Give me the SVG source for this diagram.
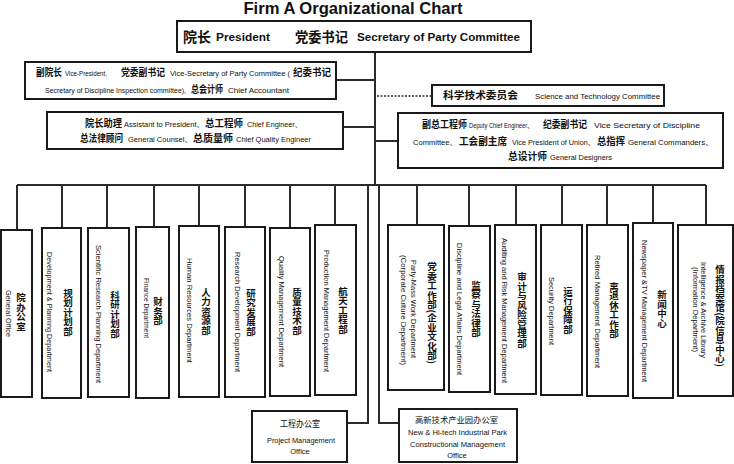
<svg xmlns="http://www.w3.org/2000/svg" width="734" height="464" viewBox="0 0 734 464">
<style>
.bx{fill:#fff;stroke:#1a1a1a;stroke-width:2}
.ln{fill:none;stroke:#2a2a2a;stroke-width:2}
.dt{fill:none;stroke:#2a2a2a;stroke-width:1.6;stroke-dasharray:2 1.5}
text{fill:#111}
.cj{font-family:"Noto Sans CJK SC","Noto Sans CJK TC",sans-serif;font-weight:bold}
.cn{font-family:"Noto Sans CJK SC","Noto Sans CJK TC",sans-serif;font-weight:normal}
.en{font-family:"Liberation Sans","Noto Sans CJK SC",Arial,sans-serif}
.s{font-size:7.5px}
.m{font-size:10px}
.vt{writing-mode:vertical-rl;text-anchor:middle;font-size:9.5px}
.ve{font-size:7px}
</style>
<text x="353" y="14" text-anchor="middle" class="en" font-size="16.6" font-weight="bold">Firm A Organizational Chart</text>

<g id="connectors">
<path class="ln" d="M375 52V185M336 80H375M343 127H375M375 141H398M17 185H706"/>
<path class="dt" d="M377 96H432"/>
<path class="ln" d="M17 185V230M62 185V228M107 185V228M154 185V227M199 185V226M245 185V227M290 185V228M335 185V225M417 185V225M469 185V226M516 185V225M562 185V225M607 185V225M653 185V223M706 185V225"/>
<path class="ln" d="M368 185V423H347M379 185V423H399"/>
</g>

<g id="president">
<rect class="bx" x="177" y="21" width="354" height="31"/>
<text class="cj" x="183" y="42" font-size="14" textLength="28" lengthAdjust="spacingAndGlyphs">院长</text>
<text class="en" x="216" y="41" font-size="11" font-weight="bold" textLength="54" lengthAdjust="spacingAndGlyphs">President</text>
<text class="cj" x="295" y="42" font-size="13.5" textLength="53" lengthAdjust="spacingAndGlyphs">党委书记</text>
<text class="en" x="357" y="41" font-size="11" font-weight="bold" textLength="163" lengthAdjust="spacingAndGlyphs">Secretary of Party Committee</text>
</g>

<g id="vice-president">
<rect class="bx" x="25" y="62" width="311" height="37"/>
<text class="cj m" x="36" y="76" textLength="26" lengthAdjust="spacingAndGlyphs">副院长</text>
<text class="en s" x="65" y="75.5" textLength="42" lengthAdjust="spacingAndGlyphs">Vice-President,</text>
<text class="cj m" x="121" y="76" textLength="44" lengthAdjust="spacingAndGlyphs">党委副书记</text>
<text class="en s" x="170" y="75.5" textLength="120" lengthAdjust="spacingAndGlyphs">Vice-Secretary of Party Committee (</text>
<text class="cj m" x="293" y="76" textLength="38" lengthAdjust="spacingAndGlyphs">纪委书记</text>
<text class="en s" x="45" y="92.5" textLength="141" lengthAdjust="spacingAndGlyphs">Secretary of Discipline Inspection committee),</text>
<text class="cj m" x="191" y="93" textLength="32" lengthAdjust="spacingAndGlyphs">总会计师</text>
<text class="en s" x="228" y="92.5" textLength="61" lengthAdjust="spacingAndGlyphs">Chief  Accountant</text>
</g>

<g id="assistants">
<rect class="bx" x="47" y="112" width="296" height="37"/>
<text class="cj m" x="85" y="127" textLength="37" lengthAdjust="spacingAndGlyphs">院长助理</text>
<text class="en s" x="124" y="126.5" textLength="80" lengthAdjust="spacingAndGlyphs">Assistant to President、</text>
<text class="cj m" x="205" y="127" textLength="38" lengthAdjust="spacingAndGlyphs">总工程师</text>
<text class="en s" x="247" y="126.5" textLength="55" lengthAdjust="spacingAndGlyphs">Chief Engineer、</text>
<text class="cj m" x="80" y="142" textLength="43" lengthAdjust="spacingAndGlyphs">总法律顾问</text>
<text class="en s" x="128" y="141.5" textLength="64" lengthAdjust="spacingAndGlyphs">General Counsel、</text>
<text class="cj m" x="193" y="142" textLength="40" lengthAdjust="spacingAndGlyphs">总质量师</text>
<text class="en s" x="236" y="141.5" textLength="75" lengthAdjust="spacingAndGlyphs">Chief Quality Engineer</text>
</g>

<g id="sci-tech-committee">
<rect class="bx" x="432" y="85" width="232" height="21"/>
<text class="cj" x="443" y="99" font-size="10.5" textLength="75" lengthAdjust="spacingAndGlyphs">科学技术委员会</text>
<text class="en s" x="535" y="98.5" textLength="125" lengthAdjust="spacingAndGlyphs">Science and Technology Committee</text>
</g>

<g id="deputies">
<rect class="bx" x="398" y="113" width="325" height="55"/>
<text class="cj m" x="422" y="128" textLength="45" lengthAdjust="spacingAndGlyphs">副总工程师</text>
<text class="en" x="469" y="127.5" font-size="6.5" textLength="64" lengthAdjust="spacingAndGlyphs">Deputy Chief Engineer、</text>
<text class="cj m" x="543" y="128" textLength="44" lengthAdjust="spacingAndGlyphs">纪委副书记</text>
<text class="en s" x="594" y="127.5" textLength="106" lengthAdjust="spacingAndGlyphs">Vice Secretary of Discipline</text>
<text class="en s" x="413" y="144.5" textLength="44" lengthAdjust="spacingAndGlyphs">Committee、</text>
<text class="cj m" x="459" y="145" textLength="48" lengthAdjust="spacingAndGlyphs">工会副主席</text>
<text class="en s" x="512" y="144.5" textLength="83" lengthAdjust="spacingAndGlyphs">Vice President of Union、</text>
<text class="cj m" x="597" y="145" textLength="28" lengthAdjust="spacingAndGlyphs">总指挥</text>
<text class="en s" x="628" y="144.5" textLength="85" lengthAdjust="spacingAndGlyphs">General Commanders、</text>
<text class="cj m" x="508" y="160" textLength="39" lengthAdjust="spacingAndGlyphs">总设计师</text>
<text class="en s" x="550" y="159.5" textLength="62" lengthAdjust="spacingAndGlyphs">General Designers</text>
</g>

<g id="d1"><rect class="bx" x="1" y="230" width="31" height="167"/>
<text class="en ve" transform="translate(8,290) rotate(90)" y="2.5" textLength="47" lengthAdjust="spacingAndGlyphs">General Office</text>
<text class="cj vt" x="21" y="312">院办公室</text></g>
<g id="d2"><rect class="bx" x="42" y="228" width="39" height="170"/>
<text class="en ve" transform="translate(49,252) rotate(90)" y="2.5" textLength="120" lengthAdjust="spacingAndGlyphs">Development &amp; Planning Department</text>
<text class="cj vt" x="68" y="312">规划计划部</text></g>
<g id="d3"><rect class="bx" x="88" y="228" width="41" height="169"/>
<text class="en ve" transform="translate(98,245) rotate(90)" y="2.5" textLength="138" lengthAdjust="spacingAndGlyphs">Scientific Research Planning Department</text>
<text class="cj vt" x="115" y="314">科研计划部</text></g>
<g id="d4"><rect class="bx" x="136" y="227" width="33" height="171"/>
<text class="en ve" transform="translate(146,278) rotate(90)" y="2.5" textLength="60" lengthAdjust="spacingAndGlyphs">Finance Department</text>
<text class="cj vt" x="158" y="311">财务部</text></g>
<g id="d5"><rect class="bx" x="179" y="226" width="40" height="171"/>
<text class="en ve" transform="translate(189,258) rotate(90)" y="2.5" textLength="105" lengthAdjust="spacingAndGlyphs">Human Resources Department</text>
<text class="cj vt" x="206" y="311">人力资源部</text></g>
<g id="d6"><rect class="bx" x="225" y="227" width="40" height="170"/>
<text class="en ve" transform="translate(237,252) rotate(90)" y="2.5" textLength="120" lengthAdjust="spacingAndGlyphs">Research Development Department</text>
<text class="cj vt" x="251" y="312">研究发展部</text></g>
<g id="d7"><rect class="bx" x="270" y="228" width="40" height="168"/>
<text class="en ve" transform="translate(281,256) rotate(90)" y="2.5" textLength="111" lengthAdjust="spacingAndGlyphs">Quality Management Department</text>
<text class="cj vt" x="297" y="311">质量技术部</text></g>
<g id="d8"><rect class="bx" x="315" y="225" width="41" height="170"/>
<text class="en ve" transform="translate(326,250) rotate(90)" y="2.5" textLength="122" lengthAdjust="spacingAndGlyphs">Production Management Department</text>
<text class="cj vt" x="343" y="310">航天工程部</text></g>
<g id="d9"><rect class="bx" x="388" y="225" width="56" height="165"/>
<text class="en ve" transform="translate(403,255) rotate(90)" y="2.5" textLength="110" lengthAdjust="spacingAndGlyphs">(Corporate Culture Department)</text>
<text class="en ve" transform="translate(413,260) rotate(90)" y="2.5" textLength="98" lengthAdjust="spacingAndGlyphs">Party-Mass Work Department</text>
<text class="cj vt" x="432" y="313">党委工作部(企业文化部)</text></g>
<g id="d10"><rect class="bx" x="449" y="226" width="41" height="166"/>
<text class="en ve" transform="translate(459,243) rotate(90)" y="2.5" textLength="132" lengthAdjust="spacingAndGlyphs">Discipline and Legal Affairs Department</text>
<text class="cj vt" x="476" y="309">监察与法律部</text></g>
<g id="d11"><rect class="bx" x="495" y="225" width="41" height="169"/>
<text class="en ve" transform="translate(504,238) rotate(90)" y="2.5" textLength="145" lengthAdjust="spacingAndGlyphs">Auditing and Risk Management Department</text>
<text class="cj vt" x="522" y="310">审计与风险管理部</text></g>
<g id="d12"><rect class="bx" x="541" y="225" width="41" height="170"/>
<text class="en ve" transform="translate(551,277) rotate(90)" y="2.5" textLength="68" lengthAdjust="spacingAndGlyphs">Security Department</text>
<text class="cj vt" x="568" y="310">运行保障部</text></g>
<g id="d13"><rect class="bx" x="587" y="225" width="41" height="171"/>
<text class="en ve" transform="translate(597,255) rotate(90)" y="2.5" textLength="113" lengthAdjust="spacingAndGlyphs">Retired Management Department</text>
<text class="cj vt" x="614" y="310">离退休工作部</text></g>
<g id="d14"><rect class="bx" x="633" y="223" width="40" height="175"/>
<text class="en ve" transform="translate(644,240) rotate(90)" y="2.5" textLength="142" lengthAdjust="spacingAndGlyphs">Newspaper &amp;TV Management Department</text>
<text class="cj vt" x="662" y="309">新闻中心</text></g>
<g id="d15"><rect class="bx" x="678" y="225" width="55" height="171"/>
<text class="en ve" transform="translate(695,267) rotate(90)" y="2.5" textLength="85" lengthAdjust="spacingAndGlyphs">(Information Department)</text>
<text class="en ve" transform="translate(703,262) rotate(90)" y="2.5" textLength="96" lengthAdjust="spacingAndGlyphs">Intelligence &amp; Archive Library</text>
<text class="cj vt" x="720" y="316">情报档案馆(院信息中心)</text></g>

<g id="project-office">
<rect class="bx" x="252" y="411" width="95" height="51"/>
<text class="cn" x="300" y="426.5" font-size="9" text-anchor="middle" textLength="40" lengthAdjust="spacingAndGlyphs">工程办公室</text>
<text class="en s" x="267" y="443" textLength="68" lengthAdjust="spacingAndGlyphs">Project Management</text>
<text class="en s" x="300" y="454" text-anchor="middle">Office</text>
</g>
<g id="park-office">
<rect class="bx" x="399" y="409" width="118" height="53"/>
<text class="cn" x="415" y="422.5" font-size="8.5" textLength="83" lengthAdjust="spacingAndGlyphs">高新技术产业园办公室</text>
<text class="en s" x="408" y="435" textLength="99" lengthAdjust="spacingAndGlyphs">New &amp; Hi-tech Industrial Park</text>
<text class="en s" x="410" y="447" textLength="95" lengthAdjust="spacingAndGlyphs">Constructional Management</text>
<text class="en s" x="457" y="458" text-anchor="middle">Office</text>
</g>
</svg>
